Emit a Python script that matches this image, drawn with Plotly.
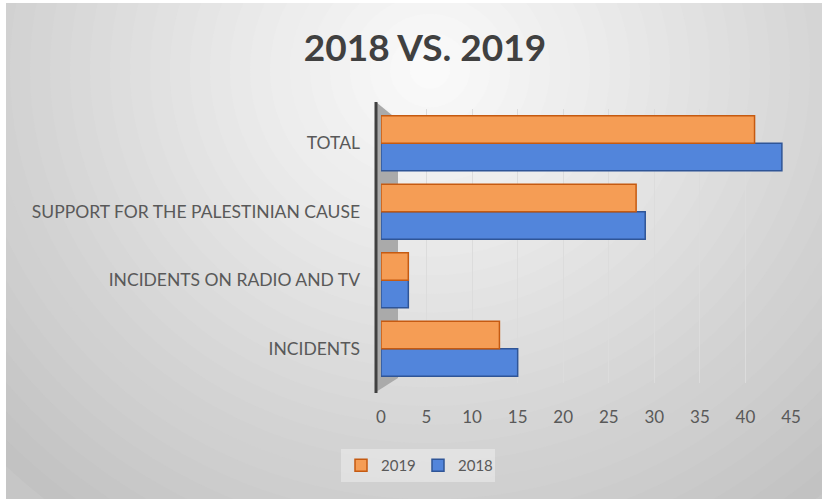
import plotly.graph_objects as go

categories = ["INCIDENTS", "INCIDENTS ON RADIO AND TV", "SUPPORT FOR THE PALESTINIAN CAUSE", "TOTAL"]
values_2018 = [15, 3, 29, 44]
values_2019 = [13, 3, 28, 41]
x_ticks = [0, 5, 10, 15, 20, 25, 30, 35, 40, 45]

W, H = 822, 499
L, R, T, B = 381, 791, 109, 383
PW, PH = R - L, B - T


def px(x):
    return (x - L) / PW


def py(y):
    return (B - y) / PH


shapes = []
# background frame
shapes.append(dict(type="rect", xref="paper", yref="paper", x0=px(6), x1=px(W + 5), y0=py(H + 5), y1=py(3),
                   fillcolor="#c6c6c6", line=dict(width=0), layer="below"))
# radial-ish gradient via stacked ellipses
cx, cy, rx, ry = 430, 70, 600, 560
N = 30
for k in range(N):
    d = 1 - k / N
    lvl = int(round(252 - 58 * d))
    col = "rgb(%d,%d,%d)" % (lvl, lvl, lvl)
    shapes.append(dict(type="circle", xref="paper", yref="paper",
                       x0=px(cx - rx * d), x1=px(cx + rx * d),
                       y0=py(cy + ry * d), y1=py(cy - ry * d),
                       fillcolor=col, line=dict(width=0), layer="below"))
# white outer strips (top and left)
shapes.append(dict(type="rect", xref="paper", yref="paper", x0=px(-5), x1=px(6), y0=py(H + 5), y1=py(-5),
                   fillcolor="white", line=dict(width=0), layer="below"))
shapes.append(dict(type="rect", xref="paper", yref="paper", x0=px(-5), x1=px(W + 5), y0=py(3), y1=py(-5),
                   fillcolor="white", line=dict(width=0), layer="below"))
# side wall (3D look)
shapes.append(dict(type="path", xref="paper", yref="paper",
                   path="M %f %f L %f %f L %f %f L %f %f Z" % (px(376), py(102), px(398), py(120),
                                                                px(398), py(378), px(376), py(392)),
                   fillcolor="#aaaaaa", line=dict(width=0), layer="below"))
# vertical axis line
shapes.append(dict(type="line", xref="paper", yref="paper", x0=px(376), x1=px(376), y0=py(102), y1=py(393),
                   line=dict(color="#404040", width=3), layer="below"))

fig = go.Figure()
fig.add_trace(go.Bar(name="2018", y=categories, x=values_2018, orientation="h",
                     marker=dict(color="#5285db", line=dict(color="#2f5597", width=1.5))))
fig.add_trace(go.Bar(name="2019", y=categories, x=values_2019, orientation="h",
                     marker=dict(color="#f59d55", line=dict(color="#c55a11", width=1.5))))

fig.update_layout(
    width=W, height=H,
    margin=dict(l=L, r=W - R, t=T, b=H - B, pad=0),
    paper_bgcolor="white",
    plot_bgcolor="rgba(0,0,0,0)",
    barmode="group",
    bargap=0.2,
    bargroupgap=0,
    font=dict(family="Lato", color="#595959"),
    title=dict(text="<b>2018 VS. 2019</b>", x=425 / W, y=1 - 48 / H, xanchor="center", yanchor="middle",
               font=dict(family="Lato", size=37, color="#404040")),
    showlegend=True,
    legend=dict(orientation="h", traceorder="reversed", x=px(341), y=py(449), xanchor="left", yanchor="top",
                bgcolor="rgba(255,255,255,0.35)", font=dict(family="Lato", size=15, color="#595959"),
                itemwidth=30, entrywidth=32),
    shapes=shapes,
)
fig.update_xaxes(range=[0, 45], tickvals=x_ticks, ticktext=[str(v) for v in x_ticks],
                 showgrid=True, gridcolor="#dcdcdc", gridwidth=1, zeroline=False, showline=False,
                 ticks="", ticklabelstandoff=22, tickfont=dict(family="Lato", size=17, color="#595959"),
                 fixedrange=True)
fig.update_yaxes(categoryorder="array", categoryarray=categories, range=[-0.5, 3.5],
                 showgrid=False, zeroline=False, showline=False, ticks="", ticklabelstandoff=20,
                 tickfont=dict(family="Lato", size=17.5, color="#595959"), fixedrange=True)

fig.write_html("out.html", config={"displayModeBar": False},
               post_script="document.body.style.margin='0';document.body.style.overflow='hidden';")
